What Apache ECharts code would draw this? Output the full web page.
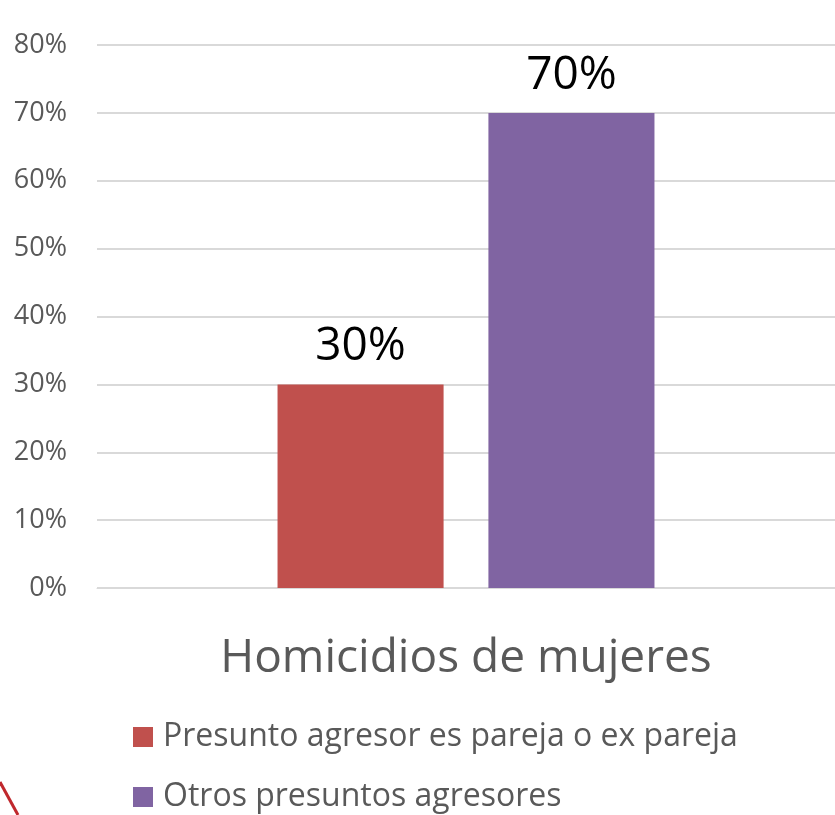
<!DOCTYPE html>
<html><head><meta charset="utf-8">
<script src="https://cdn.jsdelivr.net/npm/echarts@6/dist/echarts.min.js"></script>
<style>html,body{margin:0;padding:0;background:#fff}#c{width:835px;height:815px}</style>
</head><body><div id="c"></div>
<script>
const categories = ['Homicidios de mujeres'];
const seriesNames = ['Presunto agresor es pareja o ex pareja', 'Otros presuntos agresores'];
const pareja = [30];
const otros = [70];
const colors = ['#C0504D', '#8064A2'];
const FONT = '"Open Sans", "Noto Sans", sans-serif';

const chart = echarts.init(document.getElementById('c'));
const label = {show: true, position: 'top', distance: 14, color: '#000', fontSize: 46, fontFamily: FONT, formatter: p => p.value + '%'};
chart.setOption({
  animation: false,
  grid: {left: 97, width: 743, top: 45, bottom: 227, containLabel: false},
  legend: {
    orient: 'vertical', left: 133, top: 721, padding: 0,
    itemWidth: 20, itemHeight: 20, itemGap: 28,
    icon: 'rect',
    textStyle: {color: '#595959', fontSize: 32, lineHeight: 32, fontFamily: FONT, padding: [0,0,0,5]},
    data: seriesNames
  },
  xAxis: {
    type: 'category', data: categories,
    axisLine: {lineStyle: {color: '#D9D9D9', width: 1}},
    axisTick: {show: false},
    axisLabel: {color: '#595959', fontSize: 46, fontFamily: FONT, margin: 48}
  },
  yAxis: {
    type: 'value', min: 0, max: 80, interval: 10,
    axisLine: {show: false}, axisTick: {show: false},
    splitLine: {lineStyle: {color: '#D9D9D9', width: 2}},
    axisLabel: {color: '#595959', fontSize: 27, fontFamily: FONT, margin: 30, formatter: v => v + '%'}
  },
  series: [
    {name: seriesNames[0], type: 'bar', data: pareja, itemStyle: {color: colors[0]}, barWidth: '22.5%', barGap: '27%', label},
    {name: seriesNames[1], type: 'bar', data: otros, itemStyle: {color: colors[1]}, barWidth: '22.5%', barGap: '27%', label}
  ],
  graphic: [{type: 'line', shape: {x1: 0, y1: 782, x2: 18, y2: 815}, style: {stroke: '#C0282D', lineWidth: 3}}]
});
</script></body></html>
